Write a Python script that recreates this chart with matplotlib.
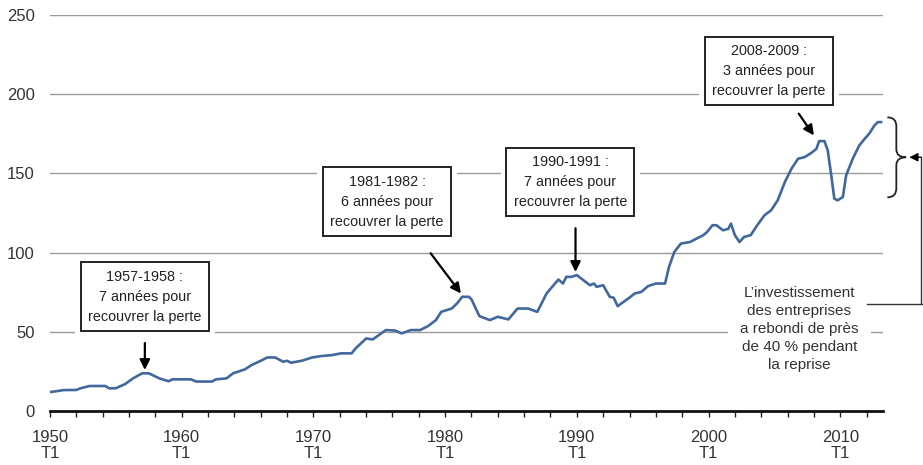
import matplotlib
matplotlib.use("Agg")
import matplotlib.pyplot as plt
from matplotlib.path import Path
from matplotlib.patches import PathPatch

plt.rcParams['font.family'] = ['Liberation Sans', 'DejaVu Sans']

# ---- data ----
years = [1950.0, 1950.5, 1951.0, 1952.0, 1952.3, 1953.0, 1954.2, 1954.5, 1955.0, 1955.7,
         1956.3, 1957.0, 1957.5, 1958.3, 1959.0, 1959.3, 1960.7, 1961.1, 1962.3, 1962.6,
         1963.4, 1963.9, 1964.8, 1965.3, 1966.0, 1966.5, 1967.1, 1967.7, 1968.0, 1968.3,
         1969.1, 1969.9, 1970.6, 1971.4, 1972.1, 1972.9, 1973.2, 1974.0, 1974.5, 1975.5,
         1976.2, 1976.7, 1977.4, 1978.1, 1978.7, 1979.3, 1979.7, 1980.5, 1980.9, 1981.3,
         1981.8, 1982.0, 1982.6, 1983.4, 1984.0, 1984.8, 1985.5, 1986.3, 1987.0, 1987.7,
         1988.6, 1988.95, 1989.2, 1989.6, 1990.0, 1991.0, 1991.3, 1991.5, 1992.0, 1992.5,
         1992.8, 1993.1, 1993.9, 1994.4, 1994.9, 1995.4, 1996.0, 1996.7, 1997.0, 1997.4,
         1997.9, 1998.6, 1999.1, 1999.6, 1999.9, 2000.3, 2000.6, 2001.1, 2001.5, 2001.7,
         2002.0, 2002.35, 2002.7, 2003.2, 2003.7, 2004.25, 2004.75, 2005.25, 2005.8, 2006.3,
         2006.8, 2007.3, 2007.8, 2008.2, 2008.4, 2008.8, 2009.05, 2009.3, 2009.55, 2009.8,
         2010.2, 2010.45, 2010.95, 2011.45, 2011.8, 2012.2, 2012.6, 2012.85, 2013.1]
values = [12.0, 12.5, 13.2, 13.3, 14.3, 15.8, 15.8, 14.3, 14.4, 17.0,
          20.6, 23.8, 23.8, 20.6, 18.8, 20.0, 20.0, 18.6, 18.6, 20.0,
          20.6, 23.8, 26.3, 29.0, 31.7, 33.8, 33.8, 31.1, 31.7, 30.5,
          31.7, 33.8, 34.7, 35.3, 36.4, 36.4, 39.5, 45.8, 45.2, 51.1,
          50.8, 49.0, 51.1, 51.1, 53.6, 57.4, 62.6, 64.7, 67.9, 72.1,
          72.1, 70.5, 59.9, 57.4, 59.5, 57.8, 64.7, 64.7, 62.6, 74.2,
          83.0, 80.5, 84.7, 84.7, 85.8, 79.4, 80.5, 78.4, 79.4, 72.1,
          71.5, 66.2, 71.0, 74.2, 75.2, 78.8, 80.5, 80.5, 91.0, 100.4,
          105.7, 106.7, 108.9, 111.0, 113.1, 117.3, 117.3, 114.1, 115.0, 118.3,
          111.0, 106.7, 109.9, 111.0, 117.3, 123.6, 126.7, 133.0, 144.6, 153.0,
          159.3, 160.3, 162.9, 165.6, 170.4, 170.4, 164.6, 149.9, 134.1, 133.0,
          135.1, 148.8, 159.3, 167.7, 171.3, 175.1, 180.3, 182.4, 182.4]

major_years = [1950, 1960, 1970, 1980, 1990, 2000, 2010]
tick_labels = [f"{y}\nT1" for y in major_years]
y_ticks = [0, 50, 100, 150, 200, 250]

annotations = [
    ("1957-1958 :\n7 années pour\nrecouvrer la perte", (1957.2, 72.2), (1957.2, 42.9), (1957.2, 25.9)),
    ("1981-1982 :\n6 années pour\nrecouvrer la perte", (1975.6, 132.1), (1978.9, 99.6), (1981.2, 74.2)),
    ("1990-1991 :\n7 années pour\nrecouvrer la perte", (1989.5, 144.7), (1989.9, 115.4), (1989.9, 87.8)),
    ("2008-2009 :\n3 années pour\nrecouvrer la perte", (2004.6, 214.7), (2006.85, 187.7), (2008.0, 174.0)),
]
side_text = "L’investissement\ndes entreprises\na rebondi de près\nde 40 % pendant\nla reprise"

# ---- figure ----
fig = plt.figure(figsize=(9.23, 4.65), dpi=100)
ax = fig.add_axes([0.0542, 0.1161, 0.9025, 0.8516])
ax.set_xlim(1950, 2013.25)
ax.set_ylim(0, 250)

for s in ['top', 'right', 'left']:
    ax.spines[s].set_visible(False)
ax.spines['bottom'].set_linewidth(2.0)
ax.spines['bottom'].set_color('#111111')
ax.spines['bottom'].set_zorder(5)

ax.set_yticks(y_ticks)
ax.set_yticklabels([str(v) for v in y_ticks])
ax.tick_params(axis='y', length=0, pad=11, labelsize=12, labelcolor='#333333')
ax.set_xticks(major_years)
ax.set_xticklabels(tick_labels, linespacing=1.1)
ax.set_xticks(list(range(1952, 2013, 2)), minor=True)
ax.tick_params(axis='x', which='both', direction='out', length=4.5, width=1.0,
               color='#222222', pad=9, labelsize=12, labelcolor='#333333')
ax.yaxis.grid(True, color='#9a9a9a', linewidth=1.0, zorder=0)
ax.set_axisbelow(True)

ax.plot(years, values, color='#41689c', linewidth=1.9, zorder=2, solid_joinstyle='round')

# annotation boxes with white margin that cuts the gridlines
for txt, (bx, by), (ax0, ay0), (ax1, ay1) in annotations:
    ax.text(bx, by, txt, ha='center', va='center', fontsize=10.4, linespacing=1.55,
            color='none', zorder=3,
            bbox=dict(boxstyle='square,pad=0.9', fc='white', ec='none'))
    ax.text(bx, by, txt, ha='center', va='center', fontsize=10.4, linespacing=1.55,
            color='#222222', zorder=4,
            bbox=dict(boxstyle='square,pad=0.5', fc='white', ec='#222222', lw=1.4))
    ax.annotate('', xy=(ax1, ay1), xytext=(ax0, ay0), zorder=6,
                arrowprops=dict(arrowstyle='-|>,head_length=0.6,head_width=0.3',
                                color='black', lw=1.6, shrinkA=0, shrinkB=0))

ax.text(2006.9, 51.7, side_text, ha='center', va='center', fontsize=11, linespacing=1.37,
        color='#333333', zorder=3,
        bbox=dict(boxstyle='square,pad=0.8', fc='white', ec='none'))

# connector from the side text to the brace
ax.plot([2012.03, 2016.3], [67.5, 67.5], color='#333333', lw=1.0, clip_on=False, zorder=4)
ax.plot([2016.16, 2016.16], [67.5, 160.2], color='#333333', lw=1.0, clip_on=False, zorder=4)
ax.annotate('', xy=(2015.25, 160.2), xytext=(2016.16, 160.2), annotation_clip=False,
            arrowprops=dict(arrowstyle='-|>,head_length=0.5,head_width=0.25',
                            color='black', lw=1.0, shrinkA=0, shrinkB=0))

# brace spanning the recovery
xb0, xb1, xb2 = 2013.58, 2014.26, 2015.0
top, bot, mid = 185.4, 134.9, 160.2
verts = [(xb0, top), (xb1, top), (xb1, top - 5.6), (xb1, mid + 5.1),
         (xb1, mid), (xb2, mid), (xb1, mid), (xb1, mid - 5.1),
         (xb1, bot + 5.7), (xb1, bot), (xb0, bot)]
codes = [Path.MOVETO, Path.CURVE3, Path.CURVE3, Path.LINETO,
         Path.CURVE3, Path.CURVE3, Path.CURVE3, Path.CURVE3,
         Path.LINETO, Path.CURVE3, Path.CURVE3]
ax.add_patch(PathPatch(Path(verts, codes), fill=False, ec='#222222', lw=1.3, clip_on=False))

fig.savefig('out.png', dpi=100)
